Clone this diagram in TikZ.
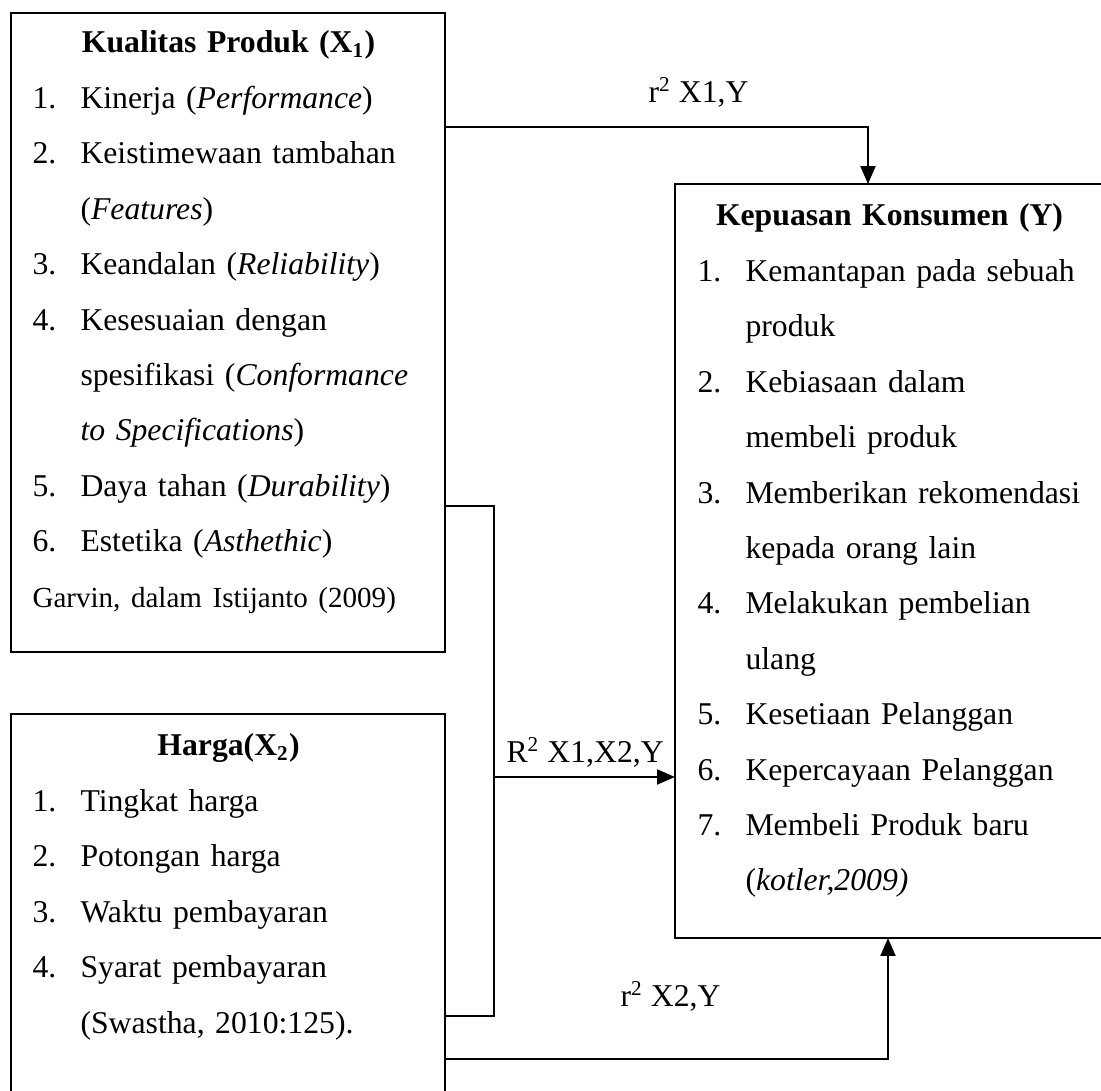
\documentclass[tikz,border=0pt]{standalone}
\usepackage{fontspec}
\setmainfont{Liberation Serif}
\usepackage{tikz}
\usetikzlibrary{arrows.meta}
\newlength{\numw}
\setlength{\numw}{18.17pt}
\newcommand{\itm}[2]{\mbox{\makebox[\numw][l]{#1}#2}\par}
\newcommand{\cnt}[1]{\mbox{\hspace*{\numw}#1}\par}
\newcommand{\hdr}[1]{{\centering\textbf{#1}\par}}
\tikzstyle{block} = [rectangle, draw=black, line width=0.7pt, inner sep=0pt, outer sep=0pt]
\tikzstyle{items} = [inner sep=0pt, anchor=base west, align=left, font=\fontsize{12}{20.97}\selectfont]
\tikzstyle{coef} = [inner sep=0pt, anchor=base west, font=\fontsize{12}{14}\selectfont]
\tikzstyle{link} = [line width=0.7pt]
\tikzstyle{arrow} = [line width=0.7pt,-{Triangle[width=5.7pt,length=6.8pt]}]
\begin{document}
\begin{tikzpicture}[x=0.3785pt,y=-0.3785pt]
\useasboundingbox (0,0) rectangle (1101,1091);
\clip (0,0) rectangle (1101,1091);
% boxes
\node[block, minimum width=164.27pt, minimum height=241.86pt] (kualitas) at (228,332.5) {};
\node[block, minimum width=164.27pt, minimum height=149.9pt] (harga) at (228,912) {};
\node[block, minimum width=162pt, minimum height=285.39pt] (kepuasan) at (889,561) {};
% box texts
\node[items, text width=148.37pt] (kualitasTxt) at (32,53) {%
  \hdr{Kualitas Produk (X\textsubscript{1})}
  \itm{1.}{Kinerja (\textit{Performance})}
  \itm{2.}{Keistimewaan tambahan}
  \cnt{(\textit{Features})}
  \itm{3.}{Keandalan (\textit{Reliability})}
  \itm{4.}{Kesesuaian dengan}
  \cnt{spesifikasi (\textit{Conformance}}
  \cnt{\textit{to Specifications})}
  \itm{5.}{Daya tahan (\textit{Durability})}
  \itm{6.}{Estetika (\textit{Asthethic})}
  {\fontsize{11}{20.97}\selectfont Garvin, dalam Istijanto (2009)\par}};
\node[items, text width=148.37pt] (hargaTxt) at (32,756) {%
  \hdr{Harga(X\textsubscript{2})}
  \itm{1.}{Tingkat harga}
  \itm{2.}{Potongan harga}
  \itm{3.}{Waktu pembayaran}
  \itm{4.}{Syarat pembayaran}
  \cnt{(Swastha, 2010:125).}};
\node[items, text width=145.34pt] (kepuasanTxt) at (697,226) {%
  \hdr{Kepuasan Konsumen (Y)}
  \itm{1.}{Kemantapan pada sebuah}
  \cnt{produk}
  \itm{2.}{Kebiasaan dalam}
  \cnt{membeli produk}
  \itm{3.}{Memberikan rekomendasi}
  \cnt{kepada orang lain}
  \itm{4.}{Melakukan pembelian}
  \cnt{ulang}
  \itm{5.}{Kesetiaan Pelanggan}
  \itm{6.}{Kepercayaan Pelanggan}
  \itm{7.}{Membeli Produk baru}
  \cnt{(\textit{kotler,2009)}}};
% coefficients
\node[coef] (rx1) at (648,103) {r\textsuperscript{2} X1,Y};
\node[coef] (rx12) at (506,763) {R\textsuperscript{2} X1,X2,Y};
\node[coef] (rx2) at (620,1007) {r\textsuperscript{2} X2,Y};
% connectors
\coordinate (j1) at (868,127);
\coordinate (j2) at (494,506);
\coordinate (j3) at (494,1016);
\coordinate (j4) at (494,777);
\coordinate (j5) at (888,1059);
\draw[arrow] (kualitas.east |- j1) -| (kepuasan.north -| j1);
\draw[link] (kualitas.east |- j2) -- (j2) -- (j3) -- (harga.east |- j3);
\draw[arrow] (j4) -- (kepuasan.west |- j4);
\draw[arrow] (harga.east |- j5) -| (kepuasan.south -| j5);
\end{tikzpicture}
\end{document}
